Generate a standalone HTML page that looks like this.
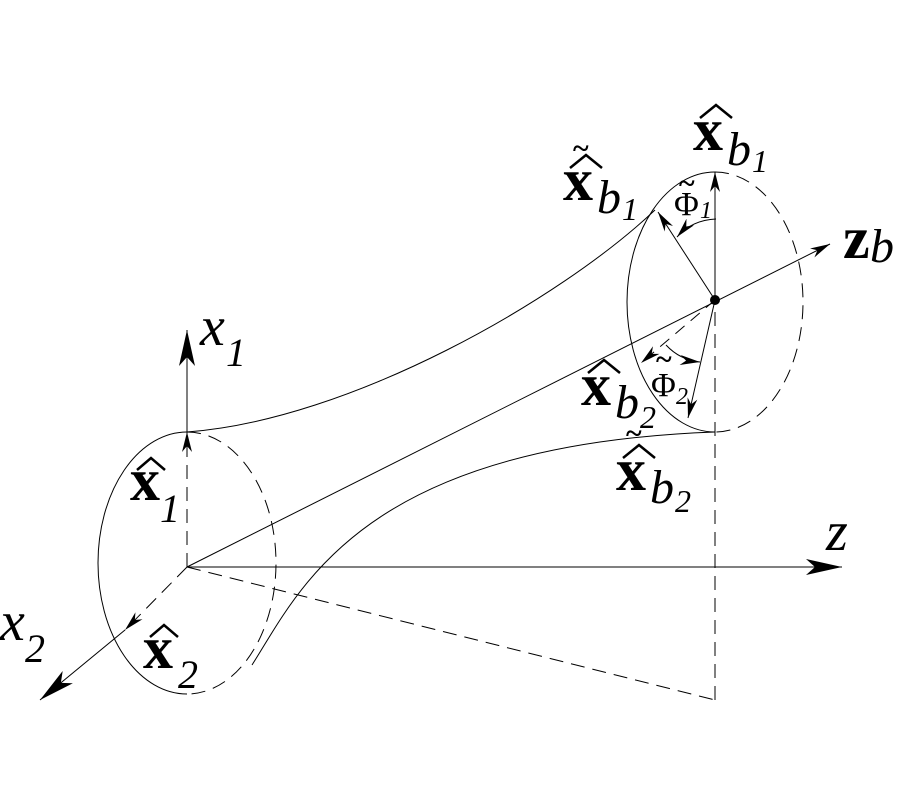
<!DOCTYPE html>
<html><head><meta charset="utf-8"><style>
html,body{margin:0;padding:0;background:#fff;}
svg{display:block;}
text{font-family:"Liberation Serif","Times New Roman",serif;}
</style></head><body>
<svg width="900" height="800" viewBox="0 0 900 800" xmlns="http://www.w3.org/2000/svg">
<defs>
<marker id="a" viewBox="0 0 20 10" refX="20" refY="5" markerWidth="20" markerHeight="10" markerUnits="userSpaceOnUse" orient="auto">
<path d="M0,0 L20,5 L0,10 L6,5 Z" fill="#000"/></marker>
<marker id="A" viewBox="0 0 36 16" refX="36" refY="8" markerWidth="36" markerHeight="16" markerUnits="userSpaceOnUse" orient="auto">
<path d="M0,0 L36,8 L0,16 L9,8 Z" fill="#000"/></marker>
</defs>
<g fill="none" stroke="#000" stroke-width="1">
<path d="M187,432 A89,131 0 0 0 187,694"/>
<path d="M187,432 A89,131 0 0 1 187,694" stroke-dasharray="14,8"/>
<path d="M715,172 A88,130 0 0 0 715,432"/>
<path d="M715,172 A88,130 0 0 1 715,432" stroke-dasharray="14,8"/>
<path d="M187,432 C350,420 560,300 655,210"/>
<path d="M252,665 C300,590 360,445 715,432"/>
<line x1="187" y1="567" x2="842" y2="567" marker-end="url(#A)"/>
<line x1="187" y1="432" x2="187" y2="330" marker-end="url(#A)"/>
<line x1="187" y1="567" x2="187" y2="432" stroke-dasharray="14,8" marker-end="url(#a)"/>
<line x1="187" y1="567" x2="125" y2="630" stroke-dasharray="14,8" marker-end="url(#a)"/>
<line x1="125" y1="630" x2="40" y2="700" marker-end="url(#A)"/>
<line x1="187" y1="567" x2="830" y2="244" marker-end="url(#a)"/>
<line x1="187" y1="567" x2="715" y2="700" stroke-dasharray="14,8"/>
<line x1="715" y1="700" x2="715" y2="172" stroke-dasharray="14,8"/>
<line x1="715" y1="300" x2="715" y2="172" marker-end="url(#a)"/>
<line x1="715" y1="300" x2="658" y2="212" marker-end="url(#a)"/>
<path d="M716,219 Q692,220 677,237" marker-end="url(#a)"/>
<line x1="715" y1="300" x2="688" y2="418" marker-end="url(#a)"/>
<line x1="715" y1="300" x2="641" y2="363" stroke-dasharray="12,8" marker-end="url(#a)"/>
<path d="M666,345 Q680,360 700,362" marker-end="url(#a)"/>
</g>
<circle cx="715" cy="300" r="5" fill="#000"/>
<g fill="none" stroke="#000" stroke-width="2.5">
<path d="M137,470 L151,458 L165,470"/>
<path d="M150,637 L164,625 L178,637"/>
<path d="M700,118 L716,105 L732,118"/>
<path d="M570,168 L586,155 L602,168"/>
<path d="M588,373 L604,360 L620,373"/>
<path d="M623,458 L639,445 L655,458"/>
</g>
<g font-size="60" font-weight="bold">
<text x="130" y="500">x</text>
<text x="143" y="668">x</text>
<text x="693" y="150">x</text>
<text x="563" y="200">x</text>
<text x="581" y="405">x</text>
<text x="616" y="490">x</text>
<text x="843" y="258">z</text>
</g>
<g font-size="30" font-weight="bold">
<text x="573" y="158">~</text>
<text x="626" y="443">~</text>
<text x="679" y="193">~</text>
<text x="656" y="369">~</text>
</g>
<g font-style="italic">
<text x="160" y="522" font-size="40">1</text>
<text x="178" y="688" font-size="40">2</text>
<text x="727" y="165" font-size="48">b</text><text x="752" y="172" font-size="32">1</text>
<text x="597" y="213" font-size="48">b</text><text x="622" y="220" font-size="32">1</text>
<text x="615" y="418" font-size="48">b</text><text x="640" y="428" font-size="32">2</text>
<text x="650" y="503" font-size="48">b</text><text x="675" y="512" font-size="32">2</text>
<text x="870" y="262" font-size="48">b</text>
<text x="200" y="345" font-size="56">x</text><text x="226" y="366" font-size="40">1</text>
<text x="0" y="640" font-size="56">x</text><text x="25" y="662" font-size="40">2</text>
<text x="826" y="550" font-size="56">z</text>
<text x="700" y="218" font-size="24">1</text>
<text x="676" y="404" font-size="24">2</text>
</g>
<text x="674" y="215" font-size="34">Φ</text>
<text x="651" y="396" font-size="34">Φ</text>
</svg>
</body></html>
